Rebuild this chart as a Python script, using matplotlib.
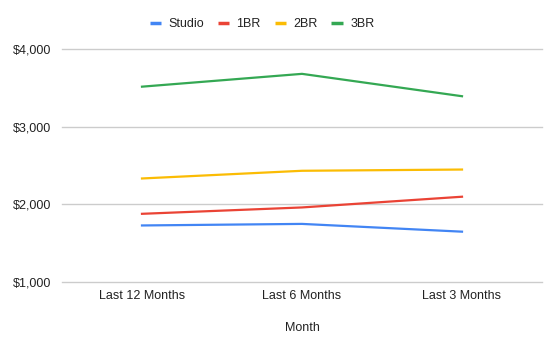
import matplotlib.pyplot as plt
from matplotlib.ticker import FuncFormatter

plt.rcParams['font.family'] = ['Liberation Sans', 'DejaVu Sans']

months = ["Last 12 Months", "Last 6 Months", "Last 3 Months"]
studio = [1728, 1748, 1648]
br1 = [1878, 1960, 2098]
br2 = [2333, 2432, 2448]
br3 = [3515, 3680, 3392]

series = [("Studio", studio, "#4285f4"),
          ("1BR", br1, "#ea4335"),
          ("2BR", br2, "#fbbc04"),
          ("3BR", br3, "#34a853")]

fig = plt.figure(figsize=(5.59, 3.52), dpi=100)
ax = fig.add_axes([62 / 559, 1 - 282 / 352, 480 / 559, 233 / 352])

x = range(len(months))
for name, vals, col in series:
    ax.plot(x, vals, color=col, lw=1.6, label=name)

ax.set_xlim(-0.5, 2.5)
ax.set_ylim(1000, 4000)
ax.set_yticks([1000, 2000, 3000, 4000])
ax.yaxis.set_major_formatter(FuncFormatter(lambda v, p: "${:,.0f}".format(v)))
ax.set_xticks(list(x))
ax.set_xticklabels(months)
ax.grid(axis='y', color='#cccccc', lw=1)
for gl in ax.get_ygridlines():
    gl.set_clip_on(False)
ax.set_axisbelow(True)
for s in ax.spines.values():
    s.set_visible(False)
ax.tick_params(length=0, labelsize=9, colors='#222222')
ax.tick_params(axis='y', pad=8)
ax.tick_params(axis='x', pad=6)
ax.set_xlabel("Month", fontsize=9, color='#222222', labelpad=14)

leg = fig.legend(loc='center', bbox_to_anchor=(262 / 559, 1 - 24 / 352), ncol=4,
                 frameon=False, fontsize=9, handlelength=0.9, columnspacing=1.1,
                 handletextpad=0.6)
for h in leg.get_lines():
    h.set_linewidth(2.5)
    h.set_solid_capstyle('butt')
for t in leg.get_texts():
    t.set_color('#222222')

fig.savefig("out.png", dpi=100)
